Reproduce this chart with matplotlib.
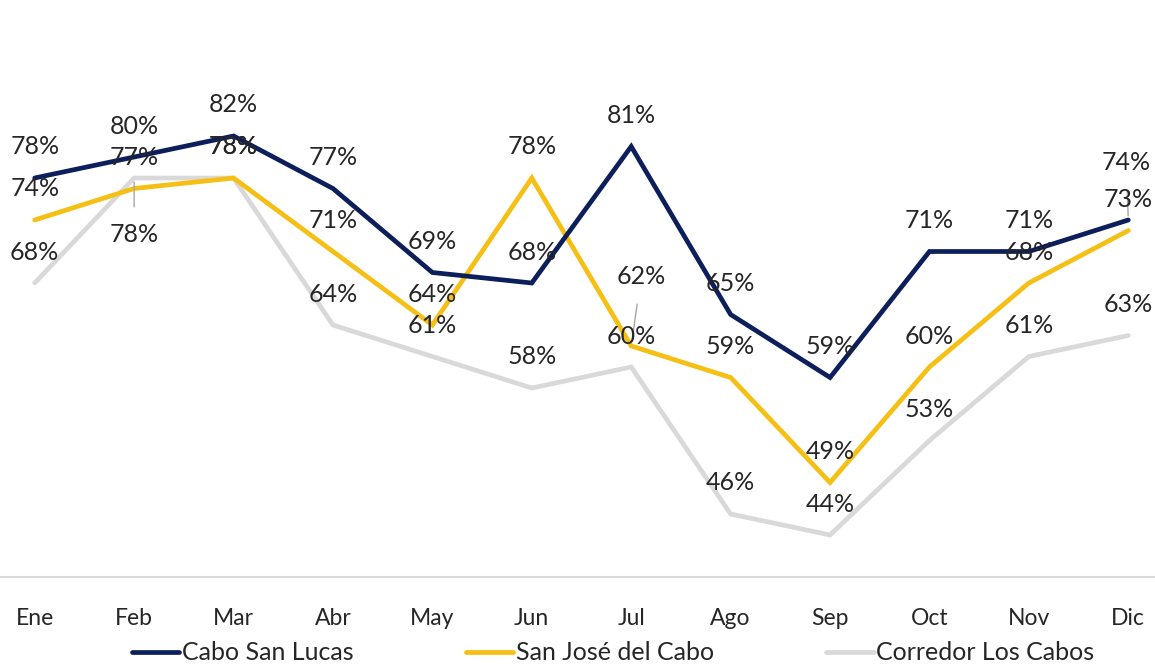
import matplotlib
matplotlib.use("Agg")
import matplotlib.pyplot as plt

months = ["Ene", "Feb", "Mar", "Abr", "May", "Jun", "Jul", "Ago", "Sep", "Oct", "Nov", "Dic"]
cabo_san_lucas = [78, 80, 82, 77, 69, 68, 81, 65, 59, 71, 71, 74]
san_jose = [74, 77, 78, 71, 64, 78, 62, 59, 49, 60, 68, 73]
corredor = [68, 78, 78, 64, 61, 58, 60, 46, 44, 53, 61, 63]

series = [
    ("Cabo San Lucas", cabo_san_lucas, "#0c1f5b"),
    ("San José del Cabo", san_jose, "#f5bf14"),
    ("Corredor Los Cabos", corredor, "#d9d9d9"),
]

# labels moved away from the default "above" spot (series index, month index) -> pixel offset
moved = {
    (2, 1): (0, -57),
    (1, 6): (10, 70),
    (0, 11): (-2, 57),
}

plt.rcParams["font.family"] = ["Lato", "DejaVu Sans"]
text_color = "#262626"

fig = plt.figure(figsize=(11.55, 6.68), dpi=100)
ax = fig.add_axes([-15 / 1155, 91 / 668, 1193 / 1155, 525 / 668])

x = list(range(len(months)))
for i, (name, vals, color) in enumerate(series):
    ax.plot(x, vals, color=color, lw=3.4, label=name, zorder=3 - i,
            solid_capstyle="round", solid_joinstyle="miter")

for i, (name, vals, color) in enumerate(series):
    for j, v in enumerate(vals):
        off = moved.get((i, j), (0, 31))
        kw = {}
        if (i, j) in moved:
            kw["arrowprops"] = dict(arrowstyle="-", color="#a6a6a6", lw=1,
                                    shrinkA=10, shrinkB=3)
        ax.annotate(f"{v}%", (j, v), xytext=off, textcoords="offset pixels",
                    ha="center", va="center", fontsize=18, color=text_color,
                    zorder=10, **kw)

ax.set_xlim(-0.5, len(months) - 0.5)
ax.set_ylim(40, 90)
ax.set_xticks(x)
ax.set_xticklabels(months, fontsize=16.5, color=text_color)
ax.tick_params(axis="x", length=0, pad=22)
ax.set_yticks([])
for s in ["top", "right", "left"]:
    ax.spines[s].set_visible(False)
ax.spines["bottom"].set_color("#d9d9d9")
ax.spines["bottom"].set_linewidth(1.5)

leg = fig.legend(loc="center", bbox_to_anchor=(613 / 1155, 1 - 653 / 668),
                 ncol=3, frameon=False, fontsize=18, handlelength=1.9,
                 handletextpad=0.1, columnspacing=4.5)
for t in leg.get_texts():
    t.set_color(text_color)

fig.savefig("out.png", dpi=100)
plt.close(fig)
